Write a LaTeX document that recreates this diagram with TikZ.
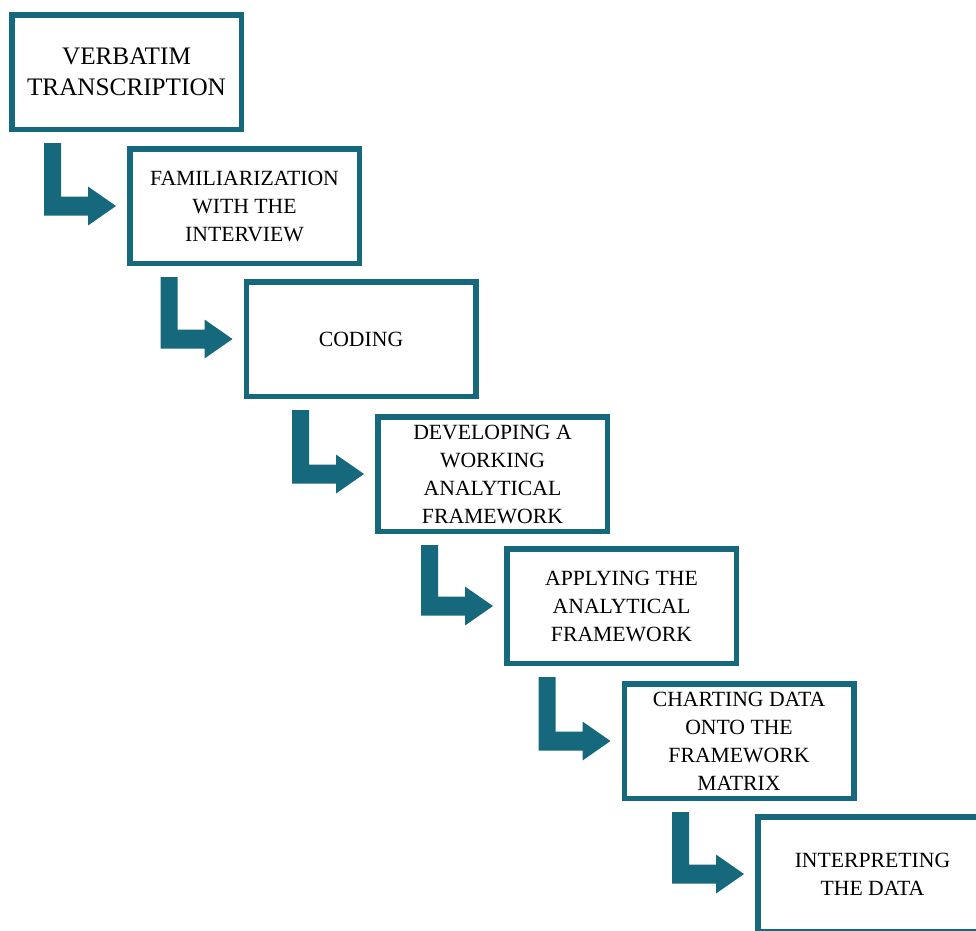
\documentclass[tikz,border=0pt]{standalone}
\usepackage{fontspec}
\setmainfont{Liberation Serif}
\usetikzlibrary{calc}
\definecolor{boxteal}{RGB}{22,104,125}
\tikzset{
  stagebox/.style={draw=boxteal, line width=5.5pt, fill=white,
    minimum width=229.5pt, minimum height=114.5pt,
    align=center, inner sep=0pt, text=black,
    font=\fontsize{21.7}{28}\selectfont},
  bigtext/.style={font=\fontsize{25.2}{31}\selectfont}
}
\newcommand{\steparrow}[2]{%
  \fill[boxteal] let \p1=(#2.west), \p2=(#1.south) in
    (\x1-83pt,\y2-11pt) -- (\x1-66pt,\y2-11pt) -- (\x1-66pt,\y1+9.5pt)
    -- (\x1-39pt,\y1+9.5pt) -- (\x1-39pt,\y1+19.5pt) -- (\x1-11pt,\y1)
    -- (\x1-39pt,\y1-19.5pt) -- (\x1-39pt,\y1-9.5pt) -- (\x1-83pt,\y1-9.5pt) -- cycle;}
\begin{document}
\begin{tikzpicture}[x=1pt,y=-1pt]
\useasboundingbox (0,0) rectangle (976,930);
\clip (0,0) rectangle (976,930);
\fill[white] (0,0) rectangle (976,930);
\node[stagebox,bigtext] (n1) at (126.5,72) {VERBATIM\\TRANSCRIPTION};
\node[stagebox] (n2) at (244.5,206) {FAMILIARIZATION\\WITH THE\\INTERVIEW};
\node[stagebox] (n3) at (361,339) {CODING};
\node[stagebox] (n4) at (492.5,474) {DEVELOPING A\\WORKING\\ANALYTICAL\\FRAMEWORK};
\node[stagebox] (n5) at (621.5,606) {APPLYING THE\\ANALYTICAL\\FRAMEWORK};
\node[stagebox] (n6) at (739,741) {CHARTING DATA\\ONTO THE\\FRAMEWORK\\MATRIX};
\node[stagebox] (n7) at (872.5,874) {INTERPRETING\\THE DATA};
\steparrow{n1}{n2}
\steparrow{n2}{n3}
\steparrow{n3}{n4}
\steparrow{n4}{n5}
\steparrow{n5}{n6}
\steparrow{n6}{n7}
\end{tikzpicture}
\end{document}
